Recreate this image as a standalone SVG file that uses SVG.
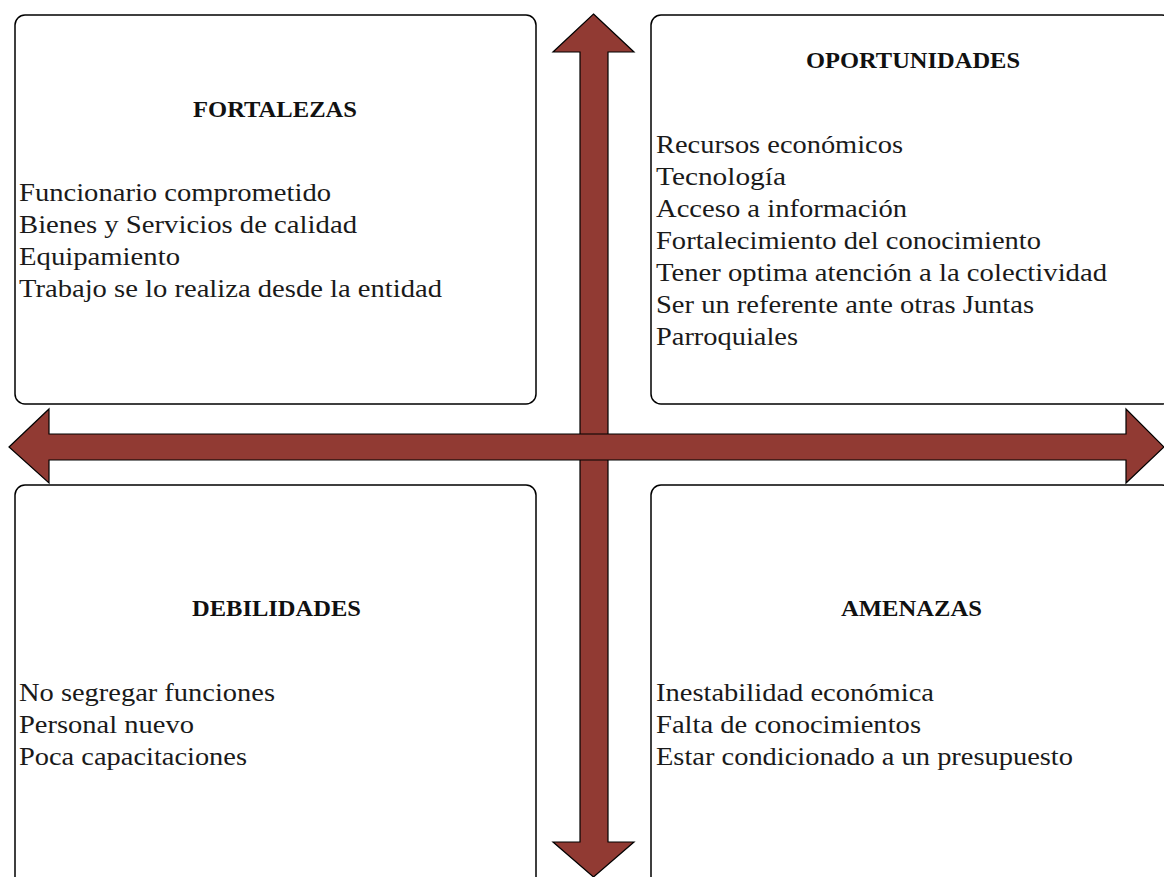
<svg xmlns="http://www.w3.org/2000/svg" width="1164" height="877" viewBox="0 0 1164 877">
<style>
.box{fill:#fff;stroke:#000;stroke-width:1.5}
.arrow{fill:#913a33;stroke:#000;stroke-width:1.2;stroke-linejoin:miter}
.title{font-family:"Liberation Serif","Times New Roman",serif;font-weight:bold;font-size:24px;fill:#111}
.item{font-family:"Liberation Serif","Times New Roman",serif;font-size:25px;fill:#1a1a1a}
</style>
<rect width="1164" height="877" fill="#fff"/>
<g id="fortalezas">
<rect class="box" x="15" y="15" width="521" height="389" rx="10"/>
<text class="title" x="193" y="117" textLength="164" lengthAdjust="spacingAndGlyphs">FORTALEZAS</text>
<text class="item" x="19" y="201" textLength="312" lengthAdjust="spacingAndGlyphs">Funcionario comprometido</text>
<text class="item" x="19" y="233" textLength="338" lengthAdjust="spacingAndGlyphs">Bienes y Servicios de calidad</text>
<text class="item" x="19" y="265" textLength="161" lengthAdjust="spacingAndGlyphs">Equipamiento</text>
<text class="item" x="19" y="297" textLength="423" lengthAdjust="spacingAndGlyphs">Trabajo se lo realiza desde la entidad</text>
</g>
<g id="oportunidades">
<rect class="box" x="651" y="15" width="521" height="389" rx="10"/>
<text class="title" x="806" y="68" textLength="214" lengthAdjust="spacingAndGlyphs">OPORTUNIDADES</text>
<text class="item" x="656" y="153" textLength="247" lengthAdjust="spacingAndGlyphs">Recursos económicos</text>
<text class="item" x="656" y="185" textLength="130" lengthAdjust="spacingAndGlyphs">Tecnología</text>
<text class="item" x="656" y="217" textLength="251" lengthAdjust="spacingAndGlyphs">Acceso a información</text>
<text class="item" x="656" y="249" textLength="385" lengthAdjust="spacingAndGlyphs">Fortalecimiento del conocimiento</text>
<text class="item" x="656" y="281" textLength="451" lengthAdjust="spacingAndGlyphs">Tener optima atención a la colectividad</text>
<text class="item" x="656" y="313" textLength="378" lengthAdjust="spacingAndGlyphs">Ser un referente ante otras Juntas</text>
<text class="item" x="656" y="345" textLength="142" lengthAdjust="spacingAndGlyphs">Parroquiales</text>
</g>
<g id="debilidades">
<rect class="box" x="15" y="485" width="521" height="420" rx="10"/>
<text class="title" x="192" y="616" textLength="169" lengthAdjust="spacingAndGlyphs">DEBILIDADES</text>
<text class="item" x="19" y="701" textLength="256" lengthAdjust="spacingAndGlyphs">No segregar funciones</text>
<text class="item" x="19" y="733" textLength="175" lengthAdjust="spacingAndGlyphs">Personal nuevo</text>
<text class="item" x="19" y="765" textLength="228" lengthAdjust="spacingAndGlyphs">Poca capacitaciones</text>
</g>
<g id="amenazas">
<rect class="box" x="651" y="485" width="521" height="420" rx="10"/>
<text class="title" x="841" y="616" textLength="141" lengthAdjust="spacingAndGlyphs">AMENAZAS</text>
<text class="item" x="656" y="701" textLength="278" lengthAdjust="spacingAndGlyphs">Inestabilidad económica</text>
<text class="item" x="656" y="733" textLength="265" lengthAdjust="spacingAndGlyphs">Falta de conocimientos</text>
<text class="item" x="656" y="765" textLength="417" lengthAdjust="spacingAndGlyphs">Estar condicionado a un presupuesto</text>
</g>
<g id="connectors">
<path class="arrow" d="M593.5,14 L634,52 L608,52 L608,842 L634,842 L593.5,877 L553,842 L580,842 L580,52 L553,52 Z"/>
<path class="arrow" d="M9,447 L49,409 L49,434 L1126,434 L1126,409 L1164,447 L1126,483 L1126,460 L49,460 L49,483 Z"/>
</g>
</svg>
